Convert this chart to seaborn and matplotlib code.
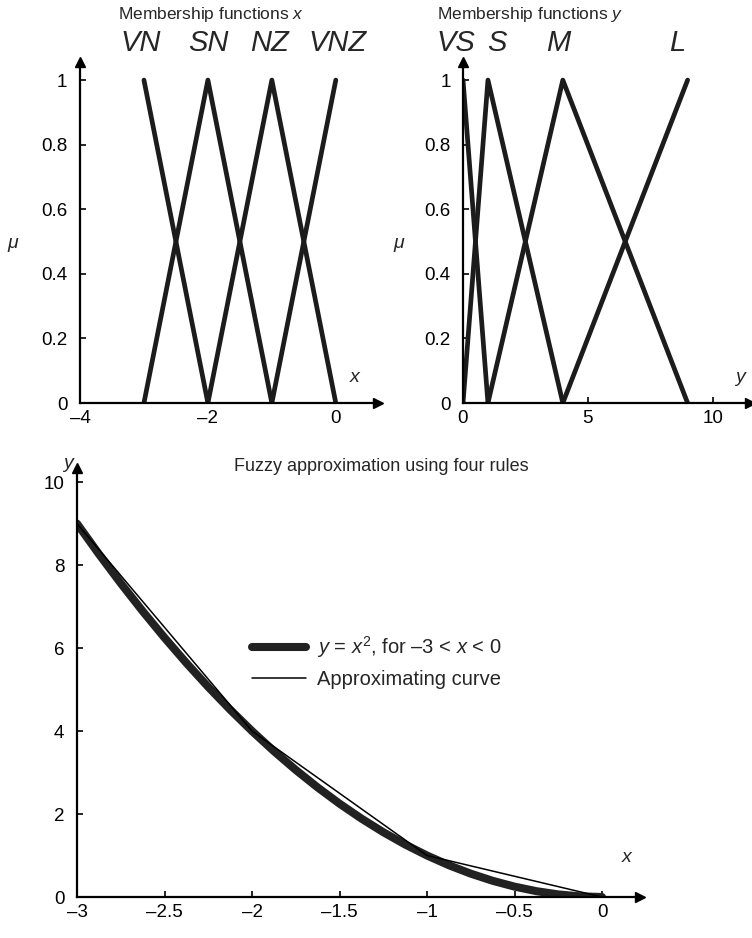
import matplotlib
matplotlib.use("Agg")
import matplotlib.pyplot as plt
import matplotlib.transforms as mtransforms
from matplotlib.lines import Line2D
import seaborn as sns

# ---------------- data ----------------
# membership functions of x
VN_x = [-3, -2];      VN_mu = [1, 0]
SN_x = [-3, -2, -1];  SN_mu = [0, 1, 0]
NZ_x = [-2, -1, 0];   NZ_mu = [0, 1, 0]
VNZ_x = [-1, 0];      VNZ_mu = [0, 1]
x_set_names = ["VN", "SN", "NZ", "VNZ"]

# membership functions of y
VS_y = [0, 1];        VS_mu = [1, 0]
S_y = [0, 1, 4];      S_mu = [0, 1, 0]
M_y = [1, 4, 9];      M_mu = [0, 1, 0]
L_y = [4, 9];         L_mu = [0, 1]
y_set_names = ["VS", "S", "M", "L"]

# true curve y = x^2 and approximation
curve_x = [-3, -2.875, -2.75, -2.625, -2.5, -2.375, -2.25, -2.125, -2, -1.875,
           -1.75, -1.625, -1.5, -1.375, -1.25, -1.125, -1, -0.875, -0.75,
           -0.625, -0.5, -0.375, -0.25, -0.125, 0]
curve_y = [9, 8.265625, 7.5625, 6.890625, 6.25, 5.640625, 5.0625, 4.515625, 4,
           3.515625, 3.0625, 2.640625, 2.25, 1.890625, 1.5625, 1.265625, 1,
           0.765625, 0.5625, 0.390625, 0.25, 0.140625, 0.0625, 0.015625, 0]
approx_x = [-3, -2, -1, 0]
approx_y = [9, 4, 1, 0]

# tick labels
mu_ticks = [0, 0.2, 0.4, 0.6, 0.8, 1]
mu_ticklabels = ["0", "0.2", "0.4", "0.6", "0.8", "1"]
x_ticks_top = [-4, -2, 0]
x_ticklabels_top = ["\u20134", "\u20132", "0"]
y_ticks_top = [0, 5, 10]
y_ticklabels_top = ["0", "5", "10"]
x_ticks_bot = [-3, -2.5, -2, -1.5, -1, -0.5, 0]
x_ticklabels_bot = ["\u20133", "\u20132.5", "\u20132", "\u20131.5", "\u20131", "\u20130.5", "0"]
y_ticks_bot = [0, 2, 4, 6, 8, 10]
y_ticklabels_bot = ["0", "2", "4", "6", "8", "10"]

# ---------------- style ----------------
sns.set_style("ticks")
plt.rcParams["font.family"] = ["Liberation Sans", "DejaVu Sans"]
plt.rcParams["mathtext.fontset"] = "custom"
plt.rcParams["mathtext.rm"] = "Liberation Sans"
plt.rcParams["mathtext.it"] = "Liberation Sans:italic"

LC = "#1c1c1c"
W, H = 752, 938
fig = plt.figure(figsize=(W / 100, H / 100), dpi=100)


def px_axes(left, right, bottom_px, top_px):
    return fig.add_axes([left / W, 1 - bottom_px / H, (right - left) / W, (bottom_px - top_px) / H])


def style(ax, xlim, ylim, xt, xtl, yt, ytl):
    ax.set_xlim(*xlim)
    ax.set_ylim(*ylim)
    ax.set_xticks(xt)
    ax.set_xticklabels(xtl)
    ax.set_yticks(yt)
    ax.set_yticklabels(ytl)
    ax.set_xlabel("")
    ax.set_ylabel("")
    for s in ["top", "right"]:
        ax.spines[s].set_visible(False)
    for s in ["left", "bottom"]:
        ax.spines[s].set_linewidth(1.6)
        ax.spines[s].set_color("black")
    ax.tick_params(direction="in", length=4, width=1.2, labelsize=13.5, colors="black")
    ax.tick_params(axis="y", pad=9)
    ax.tick_params(axis="x", pad=5)
    ax.plot(1, 0, ">", color="black", ms=7, transform=ax.transAxes, clip_on=False)
    ax.plot(0, 1, "^", color="black", ms=7, transform=ax.transAxes, clip_on=False)
    ax.set_facecolor("none")


# ---- top-left: membership functions of x ----
ax1 = px_axes(80, 378, 403, 62)
for xs, ms in [(VN_x, VN_mu), (SN_x, SN_mu), (NZ_x, NZ_mu), (VNZ_x, VNZ_mu)]:
    sns.lineplot(x=xs, y=ms, ax=ax1, color=LC, lw=3.4, sort=False, estimator=None)
style(ax1, (-4, 0.66), (0, 1.056), x_ticks_top, x_ticklabels_top, mu_ticks, mu_ticklabels)
tr1 = mtransforms.blended_transform_factory(ax1.transData, fig.transFigure)
for name, xp in zip(x_set_names, [-3.05, -2.0, -1.03, 0.02]):
    ax1.text(xp, 1 - 43 / H, name, transform=tr1, ha="center", va="center",
             fontsize=21, style="italic")
fig.text(211 / W, 1 - 15 / H, "Membership functions $x$", ha="center", va="center", fontsize=12.5)
ax1.text(0.3, 0.08, "x", fontsize=14, style="italic", ha="center", va="center")
fig.text(13 / W, 1 - 243 / H, "\u03bc", fontsize=14, style="italic", ha="center", va="center")

# ---- top-right: membership functions of y ----
ax2 = px_axes(463, 750, 403, 62)
for ys, ms in [(VS_y, VS_mu), (S_y, S_mu), (M_y, M_mu), (L_y, L_mu)]:
    sns.lineplot(x=ys, y=ms, ax=ax2, color=LC, lw=3.4, sort=False, estimator=None)
style(ax2, (0, 11.5), (0, 1.056), y_ticks_top, y_ticklabels_top, mu_ticks, mu_ticklabels)
tr2 = mtransforms.blended_transform_factory(ax2.transData, fig.transFigure)
for name, xp in zip(y_set_names, [-0.3, 1.35, 3.8, 8.6]):
    ax2.text(xp, 1 - 43 / H, name, transform=tr2, ha="center", va="center",
             fontsize=21, style="italic")
fig.text(530 / W, 1 - 15 / H, "Membership functions $y$", ha="center", va="center", fontsize=12.5)
ax2.text(11.1, 0.08, "y", fontsize=14, style="italic", ha="center", va="center")
fig.text(399 / W, 1 - 243 / H, "\u03bc", fontsize=14, style="italic", ha="center", va="center")

# ---- bottom: fuzzy approximation ----
ax3 = px_axes(77, 640, 897, 468)
sns.lineplot(x=curve_x, y=curve_y, ax=ax3, color="#222222", lw=5.8, sort=False,
             estimator=None, solid_capstyle="round")
sns.lineplot(x=approx_x, y=approx_y, ax=ax3, color="black", lw=1.1, sort=False, estimator=None)
style(ax3, (-3, 0.217), (0, 10.34), x_ticks_bot, x_ticklabels_bot, y_ticks_bot, y_ticklabels_bot)
fig.text(381 / W, 1 - 466 / H, "Fuzzy approximation using four rules", ha="center",
         va="center", fontsize=13)
ax3.text(0.14, 0.94, "x", fontsize=14, style="italic", ha="center", va="center")
fig.text(68 / W, 1 - 463 / H, "y", fontsize=14, style="italic", ha="center", va="center")

handles = [Line2D([], [], color="#222222", lw=5.8),
           Line2D([], [], color="black", lw=1.1)]
labels = ["$y$ = $x^2$, for \u20133 < $x$ < 0", "Approximating curve"]
fig.legend(handles, labels, loc="upper left", bbox_to_anchor=(252 / W, 1 - 634 / H),
           frameon=False, fontsize=14.5, handlelength=2.7, handletextpad=0.55,
           labelspacing=0.5, borderaxespad=0, borderpad=0)

fig.savefig("out.png", dpi=100)
